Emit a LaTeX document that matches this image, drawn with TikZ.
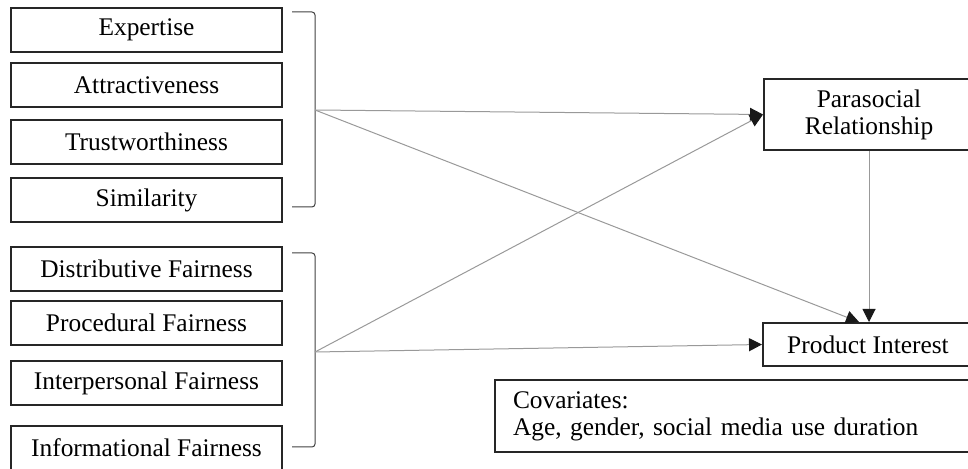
\documentclass[tikz,border=0pt]{standalone}
\usepackage{fontspec}
\setmainfont{Liberation Serif}
\usetikzlibrary{arrows.meta,calc}
\begin{document}
\begin{tikzpicture}[x=0.5pt,y=-0.5pt,
  font=\fontsize{12.7}{13.6}\selectfont,
  factor/.style={rectangle, draw=black!85, line width=1pt, inner sep=0pt,
    minimum width=135.5pt, minimum height=22pt, anchor=north west},
  outcome/.style={rectangle, draw=black!85, line width=1pt, inner sep=0pt,
    minimum width=105pt, anchor=north west, align=center},
  brace/.style={draw=black!75, line width=0.5pt, rounded corners=1.5pt},
  path/.style={draw=black!40, line width=0.5pt,
    -{Triangle[length=6.5pt,width=6.5pt,color=black!90]}},
]
\useasboundingbox (0,0) rectangle (968,469);
\clip (0,0) rectangle (968,469);

% source characteristics
\node[factor] (exp) at (10,7)   {Expertise};
\node[factor] (att) at (10,62)  {Attractiveness};
\node[factor] (tru) at (10,119) {Trustworthiness};
\node[factor] (sim) at (10,177) {Similarity};

% fairness perceptions
\node[factor] (dis) at (10,246) {Distributive Fairness};
\node[factor] (pro) at (10,300) {Procedural Fairness};
\node[factor] (int) at (10,360) {Interpersonal Fairness};
\node[factor] (inf) at (10,425) {Informational Fairness};

% brackets grouping the two blocks
\draw[brace] (292,12) -- (315,12) -- (315,207) -- (292,207);
\draw[brace] (292,253) -- (315,253) -- (315,447) -- (292,447);
\coordinate (g1) at (315,110);
\coordinate (g2) at (315,352);

% outcomes
\node[outcome, minimum height=35.5pt] (ps) at (763,78) {Parasocial\\Relationship};
\node[outcome, minimum height=21.5pt] (pi) at (762,322) {Product Interest};

% covariates
\node[rectangle, draw=black!85, line width=1pt, anchor=north west,
  minimum height=36pt, text width=220pt, inner xsep=9pt, inner ysep=0pt,
  align=left] (cov) at (494,379) {Covariates:\\Age, gender, social media use duration};

% paths
\draw[path] (g1) -- (ps.west);
\draw[path] (g2) -- (ps.west);
\draw[path] (g1) -- ($(pi.north)+(-9,0)$);
\draw[path] (g2) -- (pi.west);
\draw[path] (ps.south) -- (ps.south |- pi.north);
\end{tikzpicture}
\end{document}
